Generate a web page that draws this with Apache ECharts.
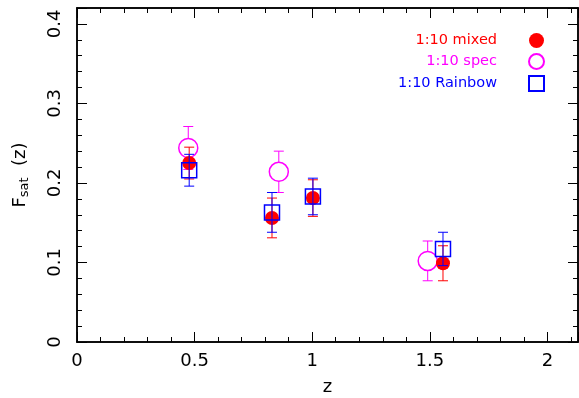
<!DOCTYPE html>
<html>
<head>
<meta charset="utf-8">
<script src="https://cdn.jsdelivr.net/npm/echarts@6/dist/echarts.min.js"></script>
<style>
  html, body { margin: 0; padding: 0; background: #fff; }
  #chart { width: 579px; height: 398px; }
</style>
</head>
<body>
<div id="chart"></div>
<script>
// redshift and satellite fraction
var zMixed = [0.477, 0.829, 1.003, 1.556];
var fMixed = [0.225, 0.156, 0.181, 0.099];
var eMixed = [0.020, 0.025, 0.023, 0.022];

var zSpec = [0.473, 0.858, 1.491];
var fSpec = [0.244, 0.214, 0.102];
var eSpec = [0.027, 0.026, 0.025];

var zRainbow = [0.477, 0.829, 1.003, 1.556];
var fRainbow = [0.216, 0.163, 0.183, 0.117];
var eRainbow = [0.020, 0.025, 0.023, 0.021];

var seriesNames = ['1:10 mixed', '1:10 spec', '1:10 Rainbow'];
var xRange = [0, 2.13];
var yRange = [0, 0.42];

var FONT = 'DejaVu Sans';
var AXIS = '#000';

function pairs(xs, ys) {
    return xs.map(function (x, i) { return [x, ys[i]]; });
}

function errorBars(name, xs, ys, es, color, z) {
    return {
        type: 'custom',
        name: name + ' err',
        z: z,
        silent: true,
        data: xs.map(function (x, i) { return [x, ys[i] - es[i], ys[i] + es[i]]; }),
        encode: {x: 0, y: [1, 2]},
        renderItem: function (params, api) {
            var lo = api.coord([api.value(0), api.value(1)]);
            var hi = api.coord([api.value(0), api.value(2)]);
            var w = 5;
            var style = {stroke: color, lineWidth: 1};
            return {
                type: 'group',
                children: [
                    {type: 'line', shape: {x1: lo[0], y1: lo[1], x2: hi[0], y2: hi[1]}, style: style},
                    {type: 'line', shape: {x1: lo[0] - w, y1: lo[1], x2: lo[0] + w, y2: lo[1]}, style: style},
                    {type: 'line', shape: {x1: hi[0] - w, y1: hi[1], x2: hi[0] + w, y2: hi[1]}, style: style}
                ]
            };
        }
    };
}

function isMultiple(v, step) {
    return Math.abs(v / step - Math.round(v / step)) < 1e-6;
}

// one axis per tick size and side, so the frame gets ticks all round
function xAxisOf(position, interval, len, labels) {
    return {
        type: 'value', position: position, min: xRange[0], max: xRange[1], interval: interval,
        axisLine: {onZero: false, lineStyle: {color: AXIS, width: 1.5}},
        axisTick: {inside: true, length: len, lineStyle: {color: AXIS, width: 1}},
        splitLine: {show: false},
        axisLabel: labels ? {
            margin: 10, color: '#000', fontFamily: FONT, fontSize: 18,
            formatter: function (v) { return isMultiple(v, 0.5) ? String(v) : ''; }
        } : {show: false},
        name: labels ? 'z' : '', nameLocation: 'middle', nameGap: 36,
        nameTextStyle: {color: '#000', fontFamily: FONT, fontSize: 18}
    };
}

function yAxisOf(position, interval, len, labels) {
    return {
        type: 'value', position: position, min: yRange[0], max: yRange[1], interval: interval,
        axisLine: {onZero: false, lineStyle: {color: AXIS, width: 1.5}},
        axisTick: {inside: true, length: len, lineStyle: {color: AXIS, width: 1}},
        splitLine: {show: false},
        axisLabel: labels ? {
            rotate: 90, margin: 13, color: '#000', fontFamily: FONT, fontSize: 18,
            formatter: function (v) { return isMultiple(v, 0.1) ? String(+v.toFixed(1)) : ''; }
        } : {show: false},
        name: labels ? '{f|F}{s|sat}{f|  (z)}' : '', nameLocation: 'middle', nameGap: 46,
        nameTextStyle: {
            color: '#000', fontFamily: FONT, fontSize: 18,
            rich: {
                f: {fontFamily: FONT, fontSize: 18, color: '#000'},
                s: {fontFamily: FONT, fontSize: 13, color: '#000', verticalAlign: 'bottom', padding: [8, 0, 0, 0]}
            }
        }
    };
}

var chart = echarts.init(document.getElementById('chart'));
chart.setOption({
    animation: false,
    backgroundColor: '#fff',
    grid: {left: 77, right: 1, top: 8, bottom: 56, outerBoundsMode: 'none'},
    xAxis: [
        xAxisOf('bottom', 0.5, 10, true),
        xAxisOf('bottom', 0.1, 5, false),
        xAxisOf('top', 0.5, 10, false),
        xAxisOf('top', 0.1, 5, false)
    ],
    yAxis: [
        yAxisOf('left', 0.1, 10, true),
        yAxisOf('left', 0.02, 5, false),
        yAxisOf('right', 0.1, 10, false),
        yAxisOf('right', 0.02, 5, false)
    ],
    legend: {
        orient: 'vertical', align: 'right', right: 34, top: 33, padding: 0,
        itemWidth: 15, itemHeight: 15, itemGap: 5, selectedMode: false,
        textStyle: {fontFamily: FONT, fontSize: 14.5, padding: [0, 27, 0, 0]},
        data: [
            {name: seriesNames[0], icon: 'circle', textStyle: {color: '#ff0000'}},
            {name: seriesNames[1], icon: 'circle', textStyle: {color: '#ff00ff'}},
            {name: seriesNames[2], icon: 'rect', textStyle: {color: '#0000ff'}}
        ]
    },
    series: [
        errorBars(seriesNames[1], zSpec, fSpec, eSpec, '#ff00ff', 1),
        {
            type: 'scatter', name: seriesNames[1], z: 2, data: pairs(zSpec, fSpec),
            symbol: 'circle', symbolSize: 19,
            itemStyle: {color: '#fff', borderColor: '#ff00ff', borderWidth: 1.5, opacity: 1},
            emphasis: {disabled: true}
        },
        errorBars(seriesNames[0], zMixed, fMixed, eMixed, '#ff0000', 3),
        {
            type: 'scatter', name: seriesNames[0], z: 4, data: pairs(zMixed, fMixed),
            symbol: 'circle', symbolSize: 14,
            itemStyle: {color: '#ff0000', opacity: 1},
            emphasis: {disabled: true}
        },
        errorBars(seriesNames[2], zRainbow, fRainbow, eRainbow, '#0000ff', 5),
        {
            type: 'scatter', name: seriesNames[2], z: 6, data: pairs(zRainbow, fRainbow),
            symbol: 'rect', symbolSize: 15,
            itemStyle: {color: 'rgba(255,255,255,0)', borderColor: '#0000ff', borderWidth: 1.5, opacity: 1},
            emphasis: {disabled: true}
        }
    ]
});
</script>
</body>
</html>
